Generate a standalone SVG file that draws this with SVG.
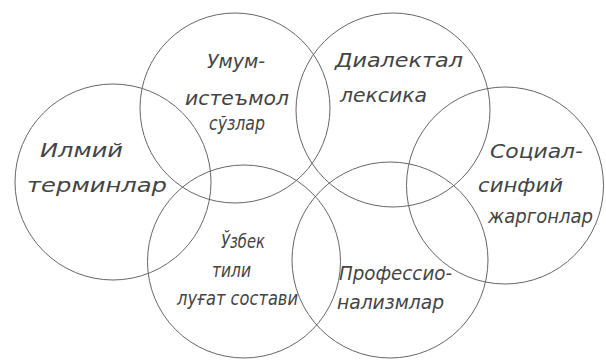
<svg xmlns="http://www.w3.org/2000/svg" width="606" height="362" viewBox="0 0 606 362">
<style>
.c{fill:none;stroke:#666;stroke-width:1}
.t{font-family:"DejaVu Sans Condensed","DejaVu Sans",sans-serif;font-style:oblique;font-size:19px;fill:#444;text-anchor:start}
</style>
<rect width="606" height="362" fill="#fff"/>
<g id="connectors"></g>
<g id="n-ilmiy"><circle class="c" cx="113" cy="182" r="98"/>
<text class="t" x="40" y="157" textLength="83" lengthAdjust="spacingAndGlyphs">Илмий</text>
<text class="t" x="27" y="192" textLength="140" lengthAdjust="spacingAndGlyphs">терминлар</text></g>
<g id="n-umum"><circle class="c" cx="235" cy="108" r="95"/>
<text class="t" x="207" y="68" textLength="58" lengthAdjust="spacingAndGlyphs">Умум-</text>
<text class="t" x="185" y="105" textLength="104" lengthAdjust="spacingAndGlyphs">истеъмол</text>
<text class="t" x="209" y="130" textLength="56" lengthAdjust="spacingAndGlyphs">сўзлар</text></g>
<g id="n-dialekt"><circle class="c" cx="393" cy="110" r="97"/>
<text class="t" x="335" y="67" textLength="128" lengthAdjust="spacingAndGlyphs">Диалектал</text>
<text class="t" x="340" y="102" textLength="87" lengthAdjust="spacingAndGlyphs">лексика</text></g>
<g id="n-social"><circle class="c" cx="505" cy="185.5" r="98.5"/>
<text class="t" x="490" y="158" textLength="93" lengthAdjust="spacingAndGlyphs">Социал-</text>
<text class="t" x="478" y="192" textLength="85" lengthAdjust="spacingAndGlyphs">синфий</text>
<text class="t" x="488" y="223" textLength="105" lengthAdjust="spacingAndGlyphs">жаргонлар</text></g>
<g id="n-uzbek"><circle class="c" cx="244" cy="261.5" r="96.5"/>
<text class="t" x="221" y="248" textLength="44" lengthAdjust="spacingAndGlyphs">Ўзбек</text>
<text class="t" x="212" y="277" textLength="39" lengthAdjust="spacingAndGlyphs">тили</text>
<text class="t" x="177" y="305" textLength="121" lengthAdjust="spacingAndGlyphs">луғат состави</text></g>
<g id="n-prof"><circle class="c" cx="390" cy="260" r="98"/>
<text class="t" x="339" y="280" textLength="113" lengthAdjust="spacingAndGlyphs">Профессио-</text>
<text class="t" x="337" y="309" textLength="107" lengthAdjust="spacingAndGlyphs">нализмлар</text></g>
</svg>
